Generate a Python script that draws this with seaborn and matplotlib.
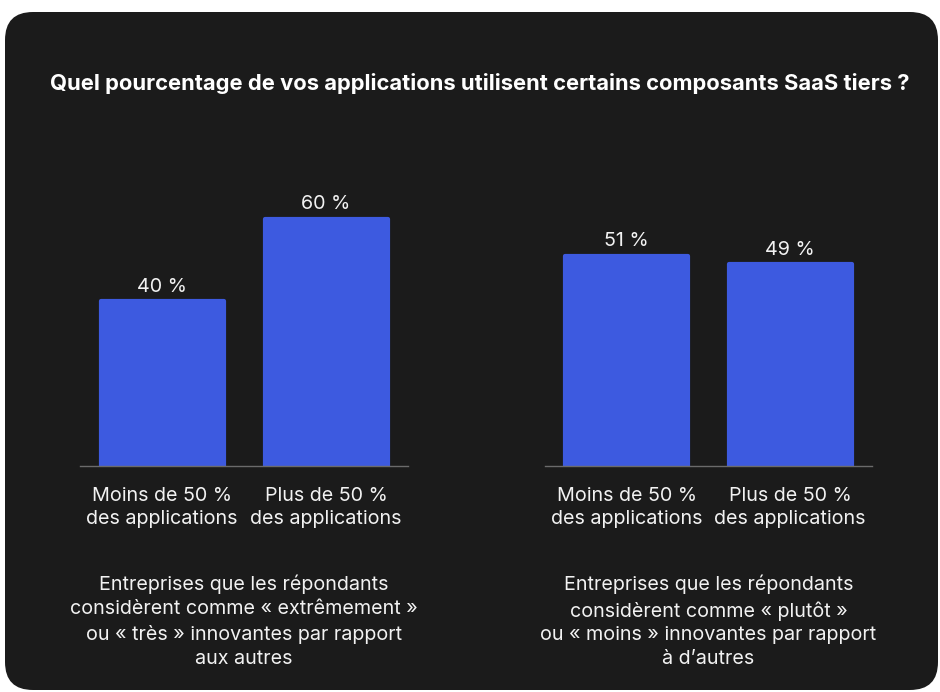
import matplotlib
matplotlib.use("Agg")
import matplotlib.pyplot as plt
from matplotlib.patches import FancyBboxPatch
import seaborn as sns

# data
categories = ["Moins de 50 %\ndes applications", "Plus de 50 %\ndes applications"]
very_innovative = [40, 60]
less_innovative = [51, 49]
captions = [
    "Entreprises que les répondants\nconsidèrent comme « extrêmement »\nou « très » innovantes par rapport\naux autres",
    "Entreprises que les répondants\nconsidèrent comme « plutôt »\nou « moins » innovantes par rapport\nà d’autres",
]
title = "Quel pourcentage de vos applications utilisent certains composants SaaS tiers ?"

CARD = "#1b1b1b"
BLUE = "#3d5ae0"
TEXT = "#f2f2f2"

sns.set_theme(style="white")
plt.rcParams["font.family"] = ["Inter", "DejaVu Sans"]

W, H = 940, 692
fig = plt.figure(figsize=(W / 100, H / 100), dpi=100)
fig.patch.set_facecolor("white")

# dark rounded card behind everything
card = FancyBboxPatch((5, 2), 933, 678, boxstyle="round,pad=0,rounding_size=28",
                      transform=None, facecolor=CARD, edgecolor="none", zorder=-10)
fig.patches.append(card)

fig.text(50 / W, 1 - 83 / H, title, color="white", fontsize=15.8, fontweight="bold",
         ha="left", va="center")

base_y = 466
px_per_pct = 4.12
ymax = 70
ax_h = ymax * px_per_pct
fs = 14.2
panels = [(80, 408, very_innovative, captions[0]),
          (545, 872, less_innovative, captions[1])]

for x0, x1, vals, cap in panels:
    ax = fig.add_axes([x0 / W, (H - base_y) / H, (x1 - x0) / W, ax_h / H])
    ax.set_facecolor("none")
    sns.barplot(x=categories, y=vals, ax=ax, color=BLUE, width=0.75, saturation=1,
                edgecolor=BLUE, linewidth=3)
    for p in ax.patches:
        p.set_joinstyle("round")
    ax.set_xlim(-0.5, 1.5)
    ax.set_ylim(0, ymax)
    ax.bar_label(ax.containers[0], labels=[f"{v} %" for v in vals], padding=4,
                 color=TEXT, fontsize=fs)
    for s in ["top", "right", "left"]:
        ax.spines[s].set_visible(False)
    ax.spines["bottom"].set_color("#6b6b6b")
    ax.spines["bottom"].set_linewidth(1)
    ax.spines["bottom"].set_zorder(5)
    ax.set_yticks([])
    ax.set_ylabel("")
    ax.tick_params(axis="x", length=0, pad=15, labelsize=fs, labelcolor=TEXT)
    for lbl in ax.get_xticklabels():
        lbl.set_linespacing(1.4)
    ax.text(0.5, -(575 - base_y) / ax_h, cap, transform=ax.transAxes, ha="center",
            va="top", color=TEXT, fontsize=fs, linespacing=1.42)

fig.savefig("out.png", dpi=100, facecolor="white")
